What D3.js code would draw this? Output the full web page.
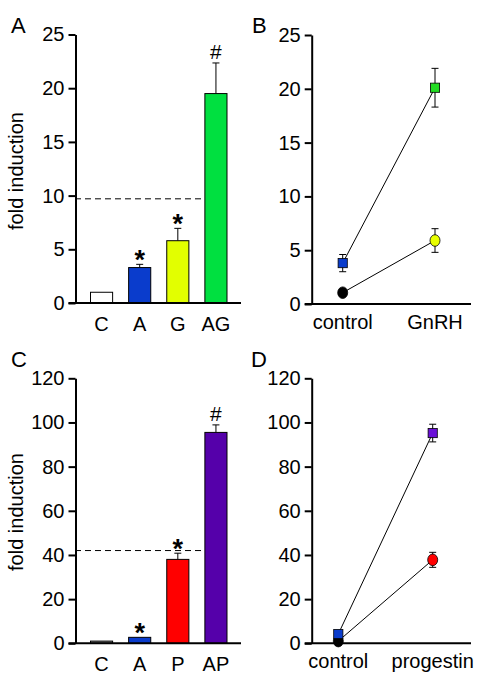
<!DOCTYPE html>
<html><head><meta charset="utf-8">
<script src="https://cdn.jsdelivr.net/npm/d3@7"></script>
<style>body{margin:0;background:#fff}svg{display:block}text{font-family:"Liberation Sans",Arial,sans-serif;fill:#000}</style>
</head><body><svg id="c" width="487" height="681"></svg>
<script>
// Panel A
const catsA = ["C","A","G","AG"];
const valsA = [1.0, 3.3, 5.8, 19.5];
const errA = [0, 0.3, 1.15, 2.85];
const sigA = ["", "*", "*", "#"];
const colA = ["#ffffff","#0a3ccc","#e2ff00","#00e040"];
const refA = 9.7;
const ticksA = [0,5,10,15,20,25];
// Panel B
const xB = ["control","GnRH"];
const sqB = [3.8, 20.1];
const sqErrB = [0.8, 1.8];
const sqColB = ["#0a3ccc","#22dd22"];
const ciB = [1.05, 5.9];
const ciErrB = [0, 1.1];
const ciColB = ["#000000","#e8ff00"];
const ticksB = [0,5,10,15,20,25];
// Panel C
const catsC = ["C","A","P","AP"];
const valsC = [1.0, 2.7, 38.0, 95.5];
const errC = [0, 0, 2.8, 3.4];
const sigC = ["", "*", "*", "#"];
const colC = ["#808080","#0a3ccc","#ff0000","#5500aa"];
const refC = 42;
const ticksC = [0,20,40,60,80,100,120];
// Panel D
const xD = ["control","progestin"];
const sqD = [4.2, 95.2];
const sqErrD = [0, 4];
const sqColD = ["#0a3ccc","#6a10d8"];
const ciD = [1.0, 37.8];
const ciErrD = [0, 3.4];
const ciColD = ["#000000","#ff0000"];
const ticksD = [0,20,40,60,80,100,120];

const svg = d3.select("#c");
const FS = 20;

function yAxis(g, y, ticks, x0, xEnd) {
  const ax = g.append("g").attr("transform", `translate(${x0},0)`)
    .call(d3.axisLeft(y).tickValues(ticks).tickSize(7).tickSizeOuter(0).tickPadding(4));
  ax.selectAll("path,line").attr("stroke","#000").attr("stroke-width",2);
  ax.selectAll("text").attr("font-size",FS).attr("font-family",'"Liberation Sans",Arial,sans-serif');
  g.append("line").attr("x1",x0-7).attr("x2",xEnd).attr("y1",y(0)).attr("y2",y(0))
    .attr("stroke","#000").attr("stroke-width",2);
}

function barPanel(cats, vals, errs, sigs, cols, ref, ticks, top, bottom, ylabelY) {
  const g = svg.append("g");
  const y = d3.scaleLinear().domain([0, d3.max(ticks)]).range([bottom, top]);
  const x = d3.scaleBand().domain(cats).range([82.5, 235]).paddingInner(0.42).paddingOuter(0.21);
  cats.forEach((c,i) => {
    if (errs[i] > 0) {
      const cx = x(c) + x.bandwidth()/2;
      g.append("line").attr("x1",cx).attr("x2",cx).attr("y1",y(vals[i])).attr("y2",y(vals[i]+errs[i])).attr("stroke","#000").attr("stroke-width",1);
      g.append("line").attr("x1",cx-3.5).attr("x2",cx+3.5).attr("y1",y(vals[i]+errs[i])).attr("y2",y(vals[i]+errs[i])).attr("stroke","#000").attr("stroke-width",1);
    }
  });
  g.selectAll("rect.b").data(cats).join("rect")
    .attr("x", d => x(d)).attr("width", x.bandwidth())
    .attr("y", (d,i) => y(vals[i])).attr("height", (d,i) => y(0)-y(vals[i]))
    .attr("fill", (d,i) => cols[i]).attr("stroke","#000").attr("stroke-width",1);
  g.append("line").attr("x1",75).attr("x2",x(cats[3])).attr("y1",y(ref)).attr("y2",y(ref))
    .attr("stroke","#000").attr("stroke-width",1).attr("stroke-dasharray","6,4");
  cats.forEach((c,i) => {
    if (!sigs[i]) return;
    const cx = x(c) + x.bandwidth()/2;
    const ty = y(vals[i]+errs[i]);
    if (sigs[i] === "*") {
      g.append("text").attr("x",cx).attr("y",ty - 11 + 0.57*27).attr("text-anchor","middle")
        .attr("font-size",27).attr("font-weight","bold").text("*");
    } else {
      g.append("text").attr("x",cx).attr("y",ty - 4).attr("text-anchor","middle").attr("font-size",21).text(sigs[i]);
    }
  });
  yAxis(g, y, ticks, 75.5, 241);
  g.selectAll("text.cat").data(cats).join("text").attr("class","cat")
    .attr("x", d => x(d) + x.bandwidth()/2).attr("y", bottom + 28)
    .attr("text-anchor","middle").attr("font-size",FS).text(d => d);
  g.append("text").attr("transform",`translate(23,${ylabelY}) rotate(-90)`).attr("text-anchor","middle")
    .attr("font-size",FS).text("fold induction");
  return g;
}

function linePanel(xs, sq, sqErr, sqCol, ci, ciErr, ciCol, ticks, top, bottom, xr, labelDy) {
  const g = svg.append("g");
  const y = d3.scaleLinear().domain([0, d3.max(ticks)]).range([bottom, top]);
  const x = d3.scalePoint().domain(xs).range(xr);
  const line = d3.line().x((d,i) => x(xs[i])).y(d => y(d));
  g.append("path").attr("d", line(ci)).attr("fill","none").attr("stroke","#000").attr("stroke-width",1);
  g.append("path").attr("d", line(sq)).attr("fill","none").attr("stroke","#000").attr("stroke-width",1);
  function err(vals, errs) {
    xs.forEach((c,i) => {
      if (errs[i] <= 0) return;
      const cx = x(c);
      g.append("line").attr("x1",cx).attr("x2",cx).attr("y1",y(vals[i]-errs[i])).attr("y2",y(vals[i]+errs[i])).attr("stroke","#000").attr("stroke-width",1);
      [vals[i]-errs[i], vals[i]+errs[i]].forEach(v => {
        g.append("line").attr("x1",cx-3.5).attr("x2",cx+3.5).attr("y1",y(v)).attr("y2",y(v)).attr("stroke","#000").attr("stroke-width",1);
      });
    });
  }
  err(ci, ciErr); err(sq, sqErr);
  g.selectAll("ellipse").data(ci).join("ellipse")
    .attr("cx",(d,i) => x(xs[i])).attr("cy", d => y(d)).attr("rx",5).attr("ry",5.8)
    .attr("fill",(d,i) => ciCol[i]).attr("stroke","#000").attr("stroke-width",0.8);
  g.selectAll("rect").data(sq).join("rect")
    .attr("x",(d,i) => x(xs[i]) - 4.6).attr("y", d => y(d) - 4.6).attr("width",9.2).attr("height",9.2)
    .attr("fill",(d,i) => sqCol[i]).attr("stroke","#000").attr("stroke-width",0.8);
  yAxis(g, y, ticks, 311.7, 471);
  g.selectAll("text.cat").data(xs).join("text").attr("class","cat")
    .attr("x", d => x(d)).attr("y", bottom + labelDy)
    .attr("text-anchor","middle").attr("font-size",FS).text(d => d);
  return g;
}

barPanel(catsA, valsA, errA, sigA, colA, refA, ticksA, 34.5, 303, 171);
linePanel(xB, sqB, sqErrB, sqColB, ciB, ciErrB, ciColB, ticksB, 35, 304, [342.7, 435], 25);
barPanel(catsC, valsC, errC, sigC, colC, refC, ticksC, 378.3, 643.3, 512);
linePanel(xD, sqD, sqErrD, sqColD, ciD, ciErrD, ciColD, ticksD, 378.3, 643.3, [338.3, 432.7], 25);

[["A",11,33],["B",252,33],["C",11,367],["D",251,367]].forEach(([t,x,y]) => {
  svg.append("text").attr("x",x).attr("y",y).attr("font-size",22).text(t);
});
</script></body></html>
